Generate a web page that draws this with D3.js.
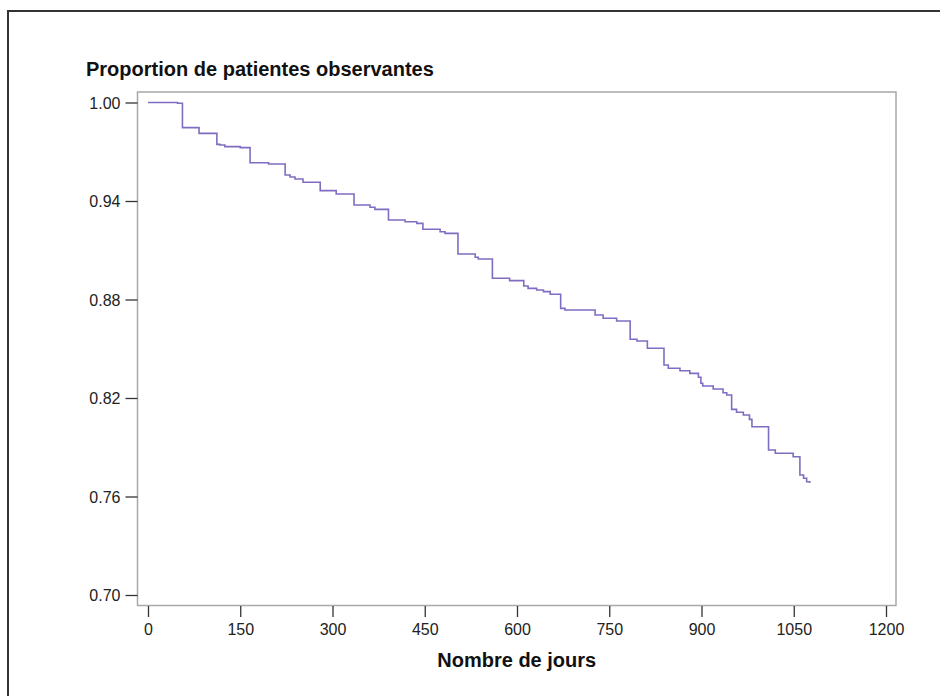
<!DOCTYPE html>
<html lang="fr">
<head>
  <meta charset="UTF-8">
  <title>Proportion de patientes observantes</title>
  <script src="https://d3js.org/d3.v7.min.js"></script>
  <style>
    body {
      margin: 0;
      background-color: #fff;
      font-family: "Liberation Sans", Arial, sans-serif;
    }
    svg {
      display: block;
    }
  </style>
</head>
<body>
  <svg id="chart" width="940" height="696"></svg>

  <script>
    // Kaplan-Meier curve (days, proportion)
    const days = [0, 48, 56, 83, 112, 117, 125, 150, 166, 196, 223, 231, 239, 252, 280, 306, 335,
      361, 369, 391, 418, 437, 447, 475, 483, 504, 532, 537, 560, 588, 611, 618, 632, 643, 654,
      671, 678, 727, 740, 762, 784, 795, 812, 839, 846, 865, 881, 895, 899, 902, 919, 935, 941,
      949, 957, 968, 978, 982, 1009, 1020, 1049, 1060, 1066, 1071, 1076];
    const proportion = [1.0, 0.9995, 0.9847, 0.9812, 0.9745, 0.9741, 0.9731, 0.9725, 0.9633,
      0.9625, 0.9558, 0.9546, 0.9534, 0.9514, 0.9463, 0.9443, 0.9376, 0.9362, 0.9349, 0.9284,
      0.9274, 0.9264, 0.9228, 0.9213, 0.9203, 0.9077, 0.9057, 0.9047, 0.8929, 0.8915, 0.8882,
      0.8868, 0.8858, 0.8848, 0.8832, 0.8746, 0.8736, 0.8706, 0.8686, 0.8669, 0.8558, 0.8547,
      0.8503, 0.8401, 0.8381, 0.8366, 0.8350, 0.8326, 0.8290, 0.8273, 0.8255, 0.8232, 0.8218,
      0.8131, 0.8113, 0.8096, 0.8070, 0.8025, 0.7883, 0.7863, 0.7842, 0.7731, 0.7711, 0.7690,
      0.7682];

    const xTicks = [0, 150, 300, 450, 600, 750, 900, 1050, 1200];
    const yTicks = [0.70, 0.76, 0.82, 0.88, 0.94, 1.00];

    const svg = d3.select("#chart");

    // outer frame (only left and top edges are visible)
    svg.append("path")
      .attr("d", "M8,696V11H940")
      .attr("fill", "none")
      .attr("stroke", "#333")
      .attr("stroke-width", 2);

    const box = { left: 137.5, top: 92, right: 896, bottom: 605.5 };

    const x = d3.scaleLinear().domain([0, 1200]).range([148, 886]);
    const y = d3.scaleLinear().domain([0.70, 1.00]).range([595, 102.5]);

    // plot frame
    svg.append("rect")
      .attr("x", box.left)
      .attr("y", box.top)
      .attr("width", box.right - box.left)
      .attr("height", box.bottom - box.top)
      .attr("fill", "none")
      .attr("stroke", "#a8a8a8")
      .attr("stroke-width", 1.5);

    // axes
    const xAxis = svg.append("g")
      .attr("transform", `translate(0,${box.bottom + 0.5})`)
      .call(d3.axisBottom(x).tickValues(xTicks).tickSize(11).tickPadding(7).tickFormat(d3.format("d")));

    const yAxis = svg.append("g")
      .attr("transform", `translate(${box.left},0)`)
      .call(d3.axisLeft(y).tickValues(yTicks).tickSize(12).tickPadding(5).tickFormat(d3.format(".2f")));

    [xAxis, yAxis].forEach(g => {
      g.select(".domain").remove();
      g.selectAll(".tick line").attr("stroke", "#333").attr("stroke-width", 1.3);
      g.selectAll(".tick text")
        .attr("fill", "#222")
        .style("font-family", "'Liberation Sans', Arial, sans-serif")
        .style("font-size", "16px");
    });
    yAxis.selectAll(".tick text").attr("dy", "0.36em");

    // curve
    const pts = days.map((d, i) => [d, proportion[i]]);
    svg.append("path")
      .datum(pts)
      .attr("fill", "none")
      .attr("stroke", "#806dc2")
      .attr("stroke-width", 1.6)
      .attr("d", d3.line()
        .x(d => x(d[0]))
        .y(d => y(d[1]))
        .curve(d3.curveStepAfter));

    // titles
    svg.append("text")
      .attr("x", 86)
      .attr("y", 76)
      .attr("font-size", "20px")
      .attr("font-weight", "bold")
      .attr("fill", "#111")
      .text("Proportion de patientes observantes");

    svg.append("text")
      .attr("x", (box.left + box.right) / 2)
      .attr("y", 667)
      .attr("text-anchor", "middle")
      .attr("font-size", "20px")
      .attr("font-weight", "bold")
      .attr("fill", "#111")
      .text("Nombre de jours");
  </script>
</body>
</html>
